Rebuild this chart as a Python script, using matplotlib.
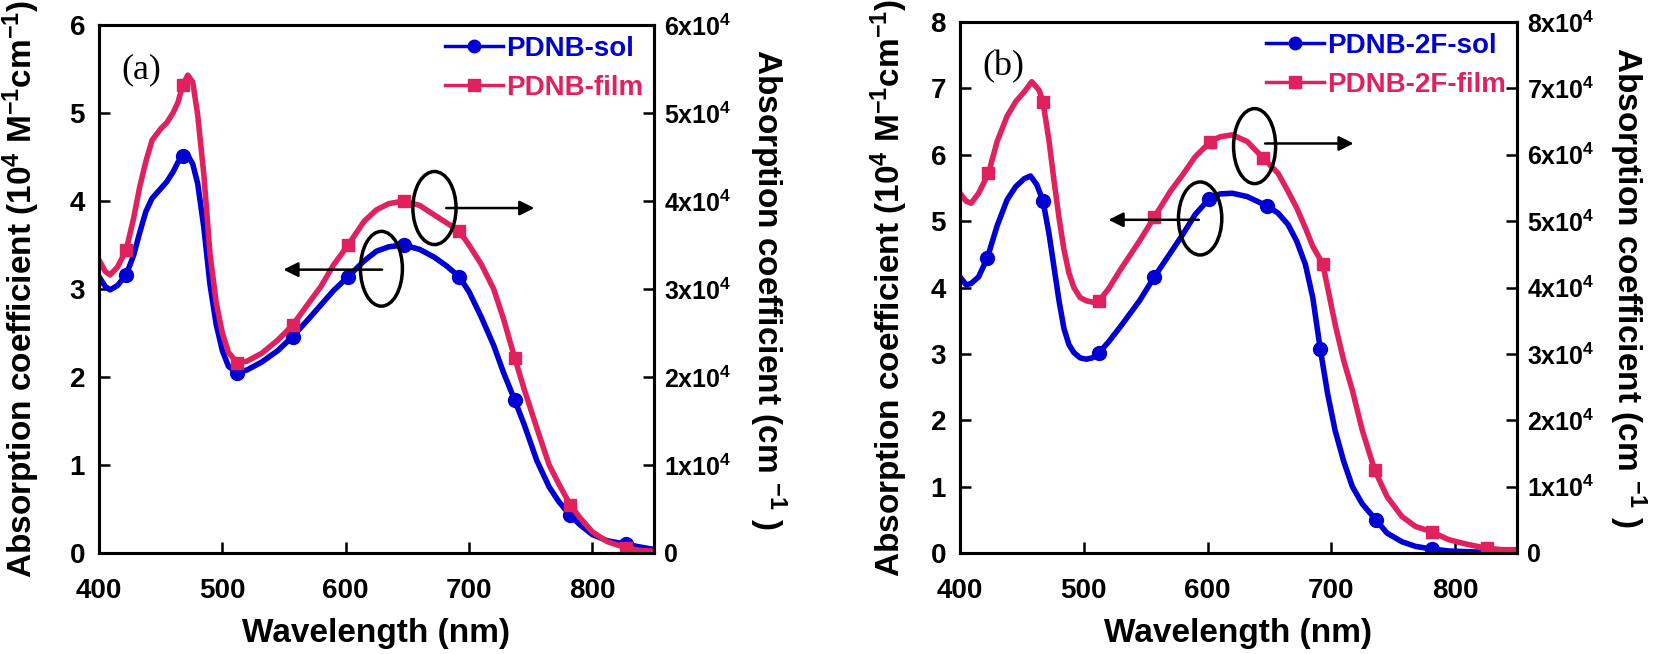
import numpy as np
import matplotlib.pyplot as plt
from matplotlib.patches import Ellipse
from matplotlib.lines import Line2D

plt.rcParams['font.family'] = ['Liberation Sans', 'DejaVu Sans']
plt.rcParams['font.weight'] = 'bold'
plt.rcParams['mathtext.fontset'] = 'custom'
plt.rcParams['mathtext.rm'] = 'Liberation Sans:bold'
plt.rcParams['mathtext.bf'] = 'Liberation Sans:bold'
plt.rcParams['mathtext.it'] = 'Liberation Sans:bold'
plt.rcParams['mathtext.default'] = 'rm'

BLUE = '#0000d2'
RED = '#e0215e'

# panel (a): PDNB, solution in 10^4 M-1cm-1, film in 10^4 cm-1
wl_a = [400, 405, 409, 415, 422, 428, 433, 438, 443, 450, 455, 460, 464, 468,
        472, 476, 480, 485, 490, 495, 500, 505, 512, 520, 532, 545, 557, 570,
        580, 590, 602, 615, 625, 635, 647, 660, 672, 682, 692, 700, 710, 720,
        728, 737, 745, 755, 765, 773, 782, 790, 800, 812, 827, 838, 850]
sol_a = [3.14, 3.03, 2.99, 3.04, 3.16, 3.38, 3.64, 3.88, 4.03, 4.14, 4.22, 4.33,
         4.44, 4.51, 4.52, 4.42, 4.20, 3.70, 3.05, 2.60, 2.30, 2.12, 2.05, 2.08,
         2.17, 2.30, 2.46, 2.66, 2.82, 2.98, 3.14, 3.32, 3.43, 3.48, 3.50, 3.45,
         3.36, 3.26, 3.14, 2.97, 2.68, 2.36, 2.05, 1.74, 1.45, 1.05, 0.75, 0.58,
         0.43, 0.32, 0.21, 0.14, 0.10, 0.07, 0.04]
film_a = [3.33, 3.20, 3.16, 3.25, 3.44, 3.80, 4.16, 4.45, 4.69, 4.82, 4.89, 5.00,
          5.12, 5.32, 5.43, 5.35, 4.98, 4.30, 3.40, 2.85, 2.50, 2.28, 2.16, 2.18,
          2.27, 2.42, 2.59, 2.84, 3.03, 3.27, 3.50, 3.77, 3.90, 3.97, 4.00, 3.95,
          3.84, 3.75, 3.66, 3.50, 3.28, 3.00, 2.66, 2.22, 1.85, 1.42, 1.00, 0.78,
          0.55, 0.40, 0.24, 0.13, 0.06, 0.03, 0.02]
marks_a = [422, 468, 512, 557, 602, 647, 692, 737, 782, 827]

# panel (b): PDNB-2F
wl_b_sol = [400, 405, 409, 415, 422, 430, 438, 445, 452, 457, 462, 467, 472, 476,
            480, 484, 488, 492, 497, 502, 507, 512, 520, 530, 545, 557, 570, 580,
            590, 601, 610, 620, 632, 648, 657, 665, 672, 679, 685, 691, 697, 703,
            710, 717, 725, 736, 745, 757, 768, 781, 795, 810, 826, 838, 850]
sol_b = [4.16, 4.04, 4.06, 4.16, 4.44, 4.93, 5.32, 5.52, 5.64, 5.68, 5.55, 5.31,
         4.80, 4.30, 3.80, 3.38, 3.14, 3.02, 2.94, 2.92, 2.94, 3.01, 3.18, 3.42,
         3.80, 4.16, 4.52, 4.80, 5.10, 5.33, 5.41, 5.42, 5.37, 5.23, 5.12, 4.95,
         4.70, 4.35, 3.85, 3.08, 2.40, 1.85, 1.38, 1.00, 0.74, 0.50, 0.30, 0.17,
         0.10, 0.06, 0.03, 0.02, 0.01, 0.00, 0.00]
marks_b_sol = [422, 467, 512, 557, 601, 648, 691, 736, 781, 826]

wl_b_film = [400, 405, 409, 415, 423, 430, 438, 445, 452, 458, 464, 467, 472, 476,
             480, 484, 488, 492, 497, 502, 507, 512, 520, 530, 545, 557, 570, 580,
             590, 602, 610, 620, 632, 645, 657, 665, 672, 679, 685, 693, 697, 703,
             710, 717, 725, 735, 745, 757, 768, 781, 795, 810, 826, 838, 850]
film_b = [5.42, 5.30, 5.27, 5.42, 5.72, 6.20, 6.58, 6.80, 6.95, 7.10, 6.97, 6.80,
          6.20, 5.60, 5.05, 4.57, 4.22, 4.00, 3.85, 3.80, 3.78, 3.79, 3.98, 4.28,
          4.70, 5.06, 5.45, 5.70, 5.97, 6.19, 6.27, 6.30, 6.20, 5.95, 5.72, 5.45,
          5.20, 4.90, 4.62, 4.36, 4.00, 3.45, 2.90, 2.45, 1.85, 1.25, 0.85, 0.55,
          0.40, 0.32, 0.20, 0.13, 0.07, 0.05, 0.05]
marks_b_film = [423, 467, 512, 557, 602, 645, 693, 735, 781, 826]


def mark_idx(wl, marks):
    return [i for i, w in enumerate(wl) if w in marks]


def panel(ax, wl_s, sol, mk_s, wl_f, film, mk_f, ymax, names, letter, rings, arrows):
    ax2 = ax.twinx()
    ax.plot(wl_s, sol, color=BLUE, lw=4, marker='o', ms=10,
            markevery=mark_idx(wl_s, mk_s))
    ax2.plot(wl_f, np.array(film) * 1e4, color=RED, lw=4, marker='s', ms=9,
             markevery=mark_idx(wl_f, mk_f))
    ax.set_xlim(400, 850)
    ax.set_ylim(0, ymax)
    ax2.set_ylim(0, ymax * 1e4)
    ax.set_xticks([400, 500, 600, 700, 800])
    ax.set_yticks(range(ymax + 1))
    ax2.set_yticks([k * 1e4 for k in range(ymax + 1)])
    ax2.set_yticklabels(['0'] + ['%dx10$^{4}$' % k for k in range(1, ymax + 1)])
    ax.tick_params(axis='x', direction='in', length=8, width=1.8, labelsize=20, pad=18)
    ax.tick_params(axis='y', direction='in', length=8, width=1.8, labelsize=20, pad=10)
    ax2.tick_params(axis='y', direction='in', length=8, width=1.8, labelsize=18, pad=7)
    for a in (ax, ax2):
        for s in a.spines.values():
            s.set_linewidth(2.2)
    ax.set_xlabel('Wavelength (nm)', fontsize=24, fontweight='bold', labelpad=10)
    ax.set_ylabel('Absorption coefficient (10$^{4}$ M$^{-1}$cm$^{-1}$)',
                  fontsize=24, fontweight='bold')
    ax2.set_ylabel('Absorption coefficient (cm $^{-1}$ )', fontsize=24,
                   fontweight='bold', rotation=270, va='bottom')
    ax.yaxis.set_label_coords(rings['ylab'], 0.5)
    ax2.yaxis.set_label_coords(rings['y2lab'], 0.5)
    ax.text(0.040, 0.915, letter, transform=ax.transAxes, fontsize=26,
            family='Liberation Serif', fontweight='normal', va='center')
    for (cx, cy, w, h) in rings['ell']:
        ax2.add_patch(Ellipse((cx, cy), w, h, transform=ax.transData, fill=False,
                              ec='black', lw=2.5, zorder=5))
    for (x0, x1, y) in arrows:
        ax2.annotate('', xy=(x1, y), xytext=(x0, y), xycoords=ax.transData,
                     textcoords=ax.transData,
                     arrowprops=dict(arrowstyle='-|>', color='black', lw=1.8,
                                     mutation_scale=22, shrinkA=0, shrinkB=0))
    h1 = Line2D([], [], color=BLUE, lw=2.5, marker='o', ms=9)
    h2 = Line2D([], [], color=RED, lw=2.5, marker='s', ms=9)
    ax2.legend([h1, h2], names, loc='upper right', bbox_to_anchor=(1.0, 1.0),
               frameon=False, prop={'size': 20, 'weight': 'bold'},
               labelcolor='linecolor', handlelength=2.1, handletextpad=0.1,
               labelspacing=0.45, borderaxespad=0)


fig = plt.figure(figsize=(16.54, 6.54), dpi=100)
ax_a = fig.add_axes([99 / 1654, 101 / 654, 555 / 1654, 528 / 654])
ax_b = fig.add_axes([960 / 1654, 101 / 654, 557 / 1654, 531 / 654])

panel(ax_a, wl_a, sol_a, marks_a, wl_a, film_a, marks_a, 6,
      ['PDNB-sol', 'PDNB-film'], '(a)',
      {'ylab': -0.103, 'y2lab': 1.168,
       'ell': [(629, 3.23, 34, 0.85), (672, 3.92, 35, 0.83)]},
      [(629.5, 549.5, 3.22), (681.5, 753, 3.92)])
panel(ax_b, wl_b_sol, sol_b, marks_b_sol, wl_b_film, film_b, marks_b_film, 8,
      ['PDNB-2F-sol', 'PDNB-2F-film'], '(b)',
      {'ylab': -0.090, 'y2lab': 1.161,
       'ell': [(594, 5.04, 35, 1.10), (638, 6.13, 34, 1.13)]},
      [(593, 520, 5.02), (646.5, 718, 6.17)])

fig.savefig('out.png', dpi=100)
